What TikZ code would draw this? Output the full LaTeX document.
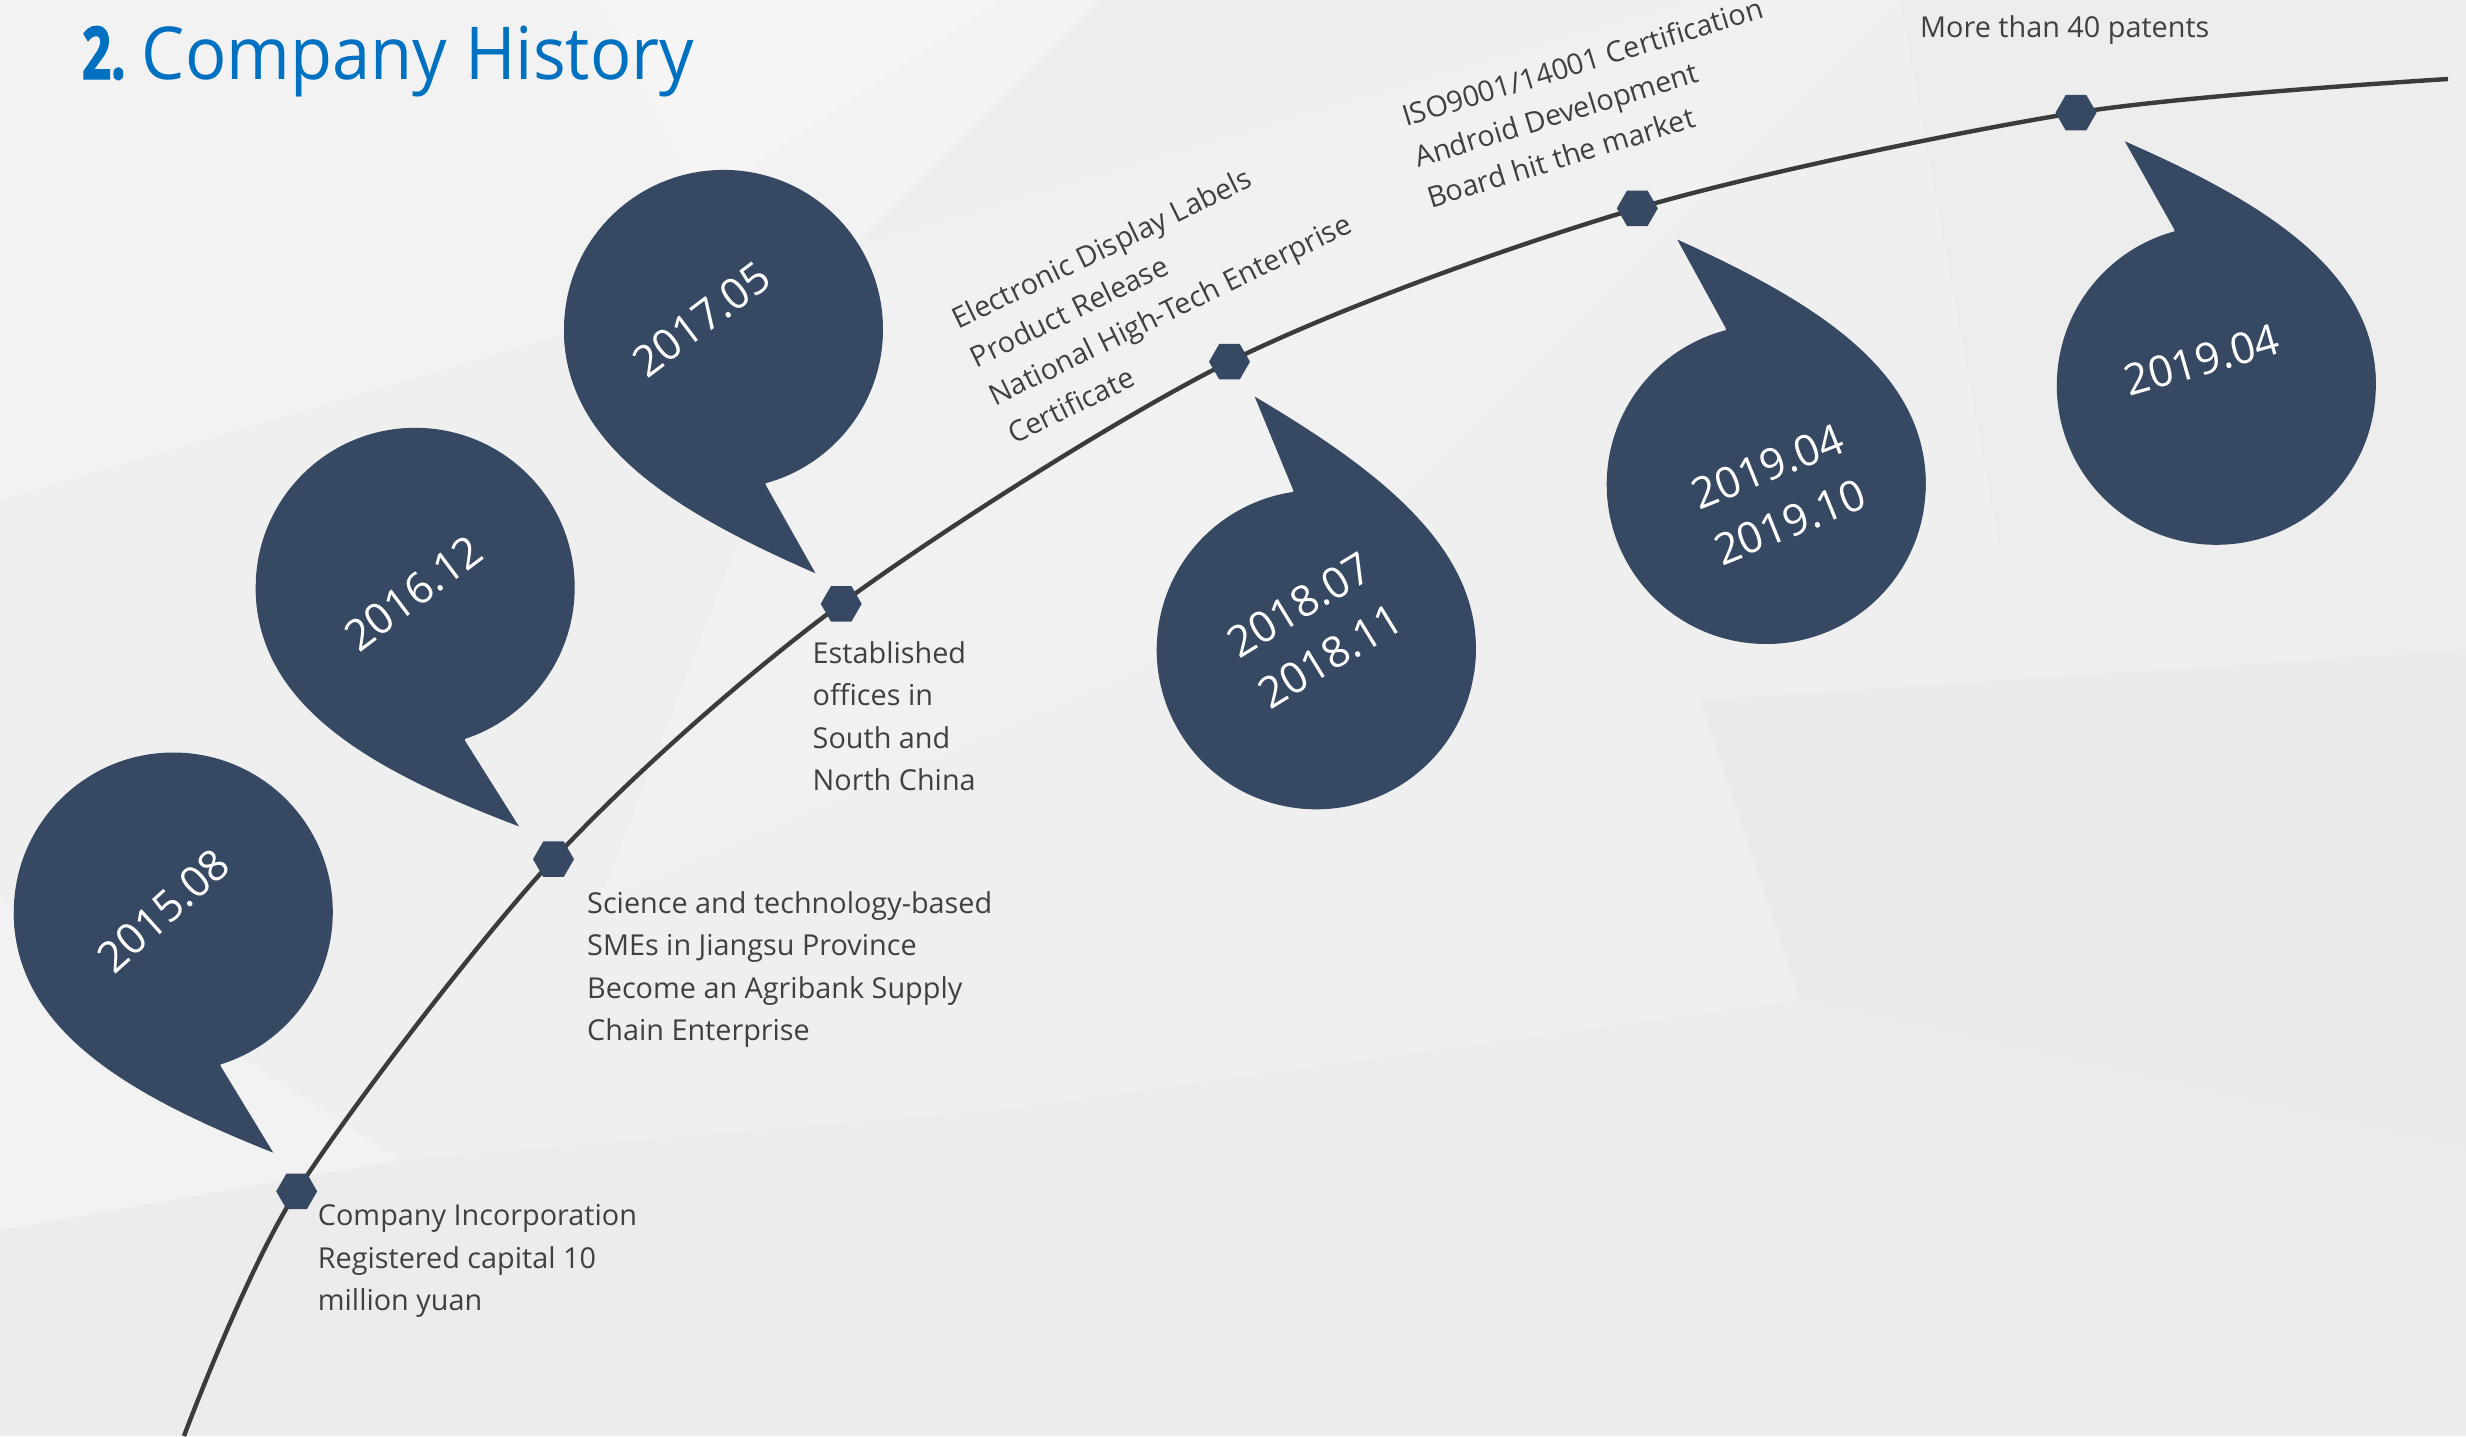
\documentclass[tikz,border=0pt]{standalone}
\usepackage{fontspec}
\setmainfont{Open Sans}
\newfontfamily\titlefont[FakeStretch=0.94]{Open Sans}
\newfontfamily\numfont[FakeStretch=0.7, BoldFeatures={FakeBold=1.6}]{Open Sans}
\definecolor{bub}{HTML}{364862}
\definecolor{tlc}{HTML}{3B3B3B}
\definecolor{lab}{HTML}{404040}
\definecolor{ttl}{HTML}{0070C0}
\newcommand\stk[2][l]{\begin{tabular}[t]{@{}#1@{}}#2\end{tabular}}
\tikzset{
  tline/.style={draw=tlc, line width=4.4pt},
  hex/.style={regular polygon, regular polygon sides=6, minimum size=41pt, inner sep=0pt, fill=bub, draw=none},
  lbl/.style={anchor=base west, inner sep=0pt, text=lab, font=\fontsize{28.8}{42.5}\selectfont},
  btxt/.style={inner sep=0pt, text=white, font=\fontsize{43}{60}\selectfont},
  bubble/.pic={
    \fill[bub] (0,0) circle[radius=159.5pt];
    \fill[bub] (-159.5,0) .. controls (-159.5,120) and (-39.5,185) .. (100,240.7) -- (47.7,154.7) -- (0,0) -- cycle;
  }
}
\usetikzlibrary{shapes.geometric}
\begin{document}
\begin{tikzpicture}[x=1pt,y=-1pt]
\useasboundingbox (0,0) rectangle (2466,1436);
% background facets
\fill[color={rgb,255:red,239;green,239;blue,239}] (0,0) rectangle (2466,1436);
\fill[color={rgb,255:red,242;green,242;blue,242}] (0,0) -- (1100,0) -- (850,250) -- (0,500) -- cycle;
\fill[color={rgb,255:red,245;green,245;blue,245}] (600,0) -- (1000,0) -- (700,200) -- cycle;
\fill[color={rgb,255:red,241;green,241;blue,241}] (850,250) -- (1700,0) -- (1900,0) -- (1300,600) -- (600,900) -- cycle;
\fill[color={rgb,255:red,237;green,237;blue,237}] (1900,0) -- (2466,0) -- (2466,700) -- (2000,550) -- cycle;
\fill[color={rgb,255:red,236;green,236;blue,236}] (0,1230) -- (400,1160) -- (1000,1110) -- (1800,1000) -- (2466,1150) -- (2466,1436) -- (0,1436) -- cycle;
\fill[color={rgb,255:red,234;green,234;blue,234}] (1700,700) -- (2466,650) -- (2466,1150) -- (1800,1000) -- cycle;
\fill[color={rgb,255:red,242;green,242;blue,242}] (0,900) -- (400,1160) -- (0,1230) -- cycle;

% title
\node[anchor=base west, inner sep=0pt, text=ttl, font=\fontsize{73}{80}\selectfont\numfont\bfseries] (num) at (81.7,79) {2.};
\node[anchor=base west, inner sep=0pt, text=ttl, font=\fontsize{73}{80}\selectfont\titlefont] (title) at (141.7,79) {Company History};

% timeline
\coordinate (c0) at (184,1436);
\coordinate (c1) at (296.7,1191.3);
\coordinate (c2) at (553.5,859.2);
\coordinate (c3) at (841.2,603.8);
\coordinate (c4) at (1229.5,361.7);
\coordinate (c5) at (1637.3,208.3);
\coordinate (c6) at (2076,112.7);
\coordinate (c7) at (2448,79);
\draw[tline] plot[smooth] coordinates {(c0) (c1) (c2) (c3) (c4) (c5) (c6) (c7)};

% bubbles
\pic at (173.3,912) {bubble};
\pic[rotate=0.9] at (415.2,587.3) {bubble};
\pic[rotate=-1.9] at (723.5,329.4) {bubble};
\pic[rotate=-188.9] at (1316.2,649.8) {bubble};
\pic[rotate=-182.6] at (1766.2,484.5) {bubble};
\pic[rotate=-182] at (2216.3,385.3) {bubble};

\node[btxt, rotate=42] (t1) at (163.3,910.7) {2015.08};
\node[btxt, rotate=37] (t2) at (413.6,593) {2016.12};
\node[btxt, rotate=37] (t3) at (701.4,319.3) {2017.05};
\node[btxt, rotate=31.5] (t4) at (1316.8,633.2) {\stk[c]{2018.07\\2018.11}};
\node[btxt, rotate=22] (t5) at (1780,497.3) {\stk[c]{2019.04\\2019.10}};
\node[btxt, rotate=16] (t6) at (2201.7,360) {2019.04};

% hexagon markers
\node[hex] (h1) at (c1) {};
\node[hex] (h2) at (c2) {};
\node[hex] (h3) at (c3) {};
\node[hex] (h4) at (c4) {};
\node[hex] (h5) at (c5) {};
\node[hex] (h6) at (c6) {};

% labels
\node[lbl] (l1) at (317.7,1225.7) {\stk{Company Incorporation\\Registered capital 10\\million yuan}};
\node[lbl] (l2) at (587,913) {\stk{Science and technology-based\\SMEs in Jiangsu Province\\Become an Agribank Supply\\Chain Enterprise}};
\node[lbl] (l3) at (812.5,663) {\stk{Established\\offices in\\South and\\North China}};
\node[lbl, rotate=26] (l4) at (958,330) {\stk{Electronic Display Labels\\Product Release\\National High-Tech Enterprise\\Certificate}};
\node[lbl, rotate=17] (l5) at (1406,127) {\stk{ISO9001/14001 Certification\\Android Development\\Board hit the market}};
\node[lbl] (l6) at (1920,37) {More than 40 patents};
\end{tikzpicture}
\end{document}
